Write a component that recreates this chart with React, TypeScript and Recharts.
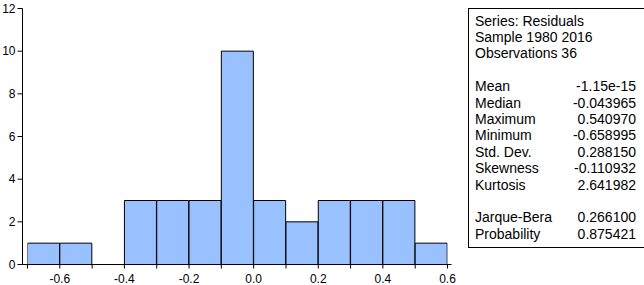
import React from "react";
import { ComposedChart, Bar, XAxis, YAxis } from "recharts";

const binCenters = [-0.65, -0.55, -0.45, -0.35, -0.25, -0.15, -0.05, 0.05, 0.15, 0.25, 0.35, 0.45, 0.55];
const counts = [1, 1, 0, 3, 3, 3, 10, 3, 2, 3, 3, 3, 1];
const xTicks = [-0.7, -0.6, -0.5, -0.4, -0.3, -0.2, -0.1, 0, 0.1, 0.2, 0.3, 0.4, 0.5, 0.6];
const yTicks = [0, 2, 4, 6, 8, 10, 12];

const statLabels = [
  "Series: Residuals",
  "Sample 1980 2016",
  "Observations 36",
  "",
  "Mean",
  "Median",
  "Maximum",
  "Minimum",
  "Std. Dev.",
  "Skewness",
  "Kurtosis",
  "",
  "Jarque-Bera",
  "Probability",
];
const statValues = [
  "", "", "", "",
  "-1.15e-15",
  "-0.043965",
  "0.540970",
  "-0.658995",
  "0.288150",
  "-0.110932",
  "2.641982",
  "",
  "0.266100",
  "0.875421",
];

const data = binCenters.map((c, i) => ({ center: c, count: counts[i] }));

const FONT = "'Liberation Sans', Arial, sans-serif";
const tickStyle = { fontFamily: FONT, fontSize: 12, fill: "#000" };

export default function App() {
  return (
    <div style={{ position: "absolute", left: 0, top: 0, width: 644, height: 285, background: "#fff" }}>
      <ComposedChart
        width={644}
        height={285}
        data={data}
        margin={{ top: 8.5, right: 192.5, bottom: 0, left: 0 }}
        barCategoryGap={0}
        barGap={0}
      >
        <XAxis
          xAxisId="main"
          dataKey="center"
          type="number"
          domain={[-0.7, 0.6]}
          ticks={xTicks}
          interval={0}
          padding={{ left: 5, right: 4 }}
          allowDataOverflow
          height={20.5}
          tickSize={4}
          tickMargin={5.5}
          tick={tickStyle}
          tickFormatter={(v: number) => (Math.round(v * 10) % 2 === 0 ? v.toFixed(1) : "")}
          axisLine={{ stroke: "#000" }}
          tickLine={{ stroke: "#000" }}
        />
        <XAxis
          xAxisId="top"
          orientation="top"
          type="number"
          domain={[0, 1]}
          height={0}
          tick={false}
          tickLine={false}
          axisLine={{ stroke: "#000" }}
        />
        <YAxis
          yAxisId="main"
          type="number"
          domain={[0, 12]}
          ticks={yTicks}
          interval={0}
          width={22.5}
          tickSize={5}
          tickMargin={2}
          tick={tickStyle}
          axisLine={{ stroke: "#000" }}
          tickLine={{ stroke: "#000" }}
        />
        <YAxis
          yAxisId="right"
          orientation="right"
          type="number"
          domain={[0, 1]}
          width={0}
          tick={false}
          tickLine={false}
          axisLine={{ stroke: "#000" }}
        />
        <Bar
          xAxisId="main"
          yAxisId="main"
          dataKey="count"
          fill="#99c0ff"
          stroke="#000"
          strokeWidth={1}
          isAnimationActive={false}
        />
      </ComposedChart>
      <svg
        width={644}
        height={285}
        style={{ position: "absolute", left: 0, top: 0, pointerEvents: "none" }}
      >
        <rect x={468.5} y={8.5} width={200} height={239} fill="none" stroke="#000" strokeWidth={1} />
        {statLabels.map((t, i) =>
          t ? (
            <text key={"l" + i} x={475} y={25.5 + i * 16.4} fontFamily={FONT} fontSize={14} fill="#000">
              {t}
            </text>
          ) : null
        )}
        {statValues.map((t, i) =>
          t ? (
            <text key={"v" + i} x={636} y={25.5 + i * 16.4} fontFamily={FONT} fontSize={14} fill="#000" textAnchor="end">
              {t}
            </text>
          ) : null
        )}
      </svg>
    </div>
  );
}
